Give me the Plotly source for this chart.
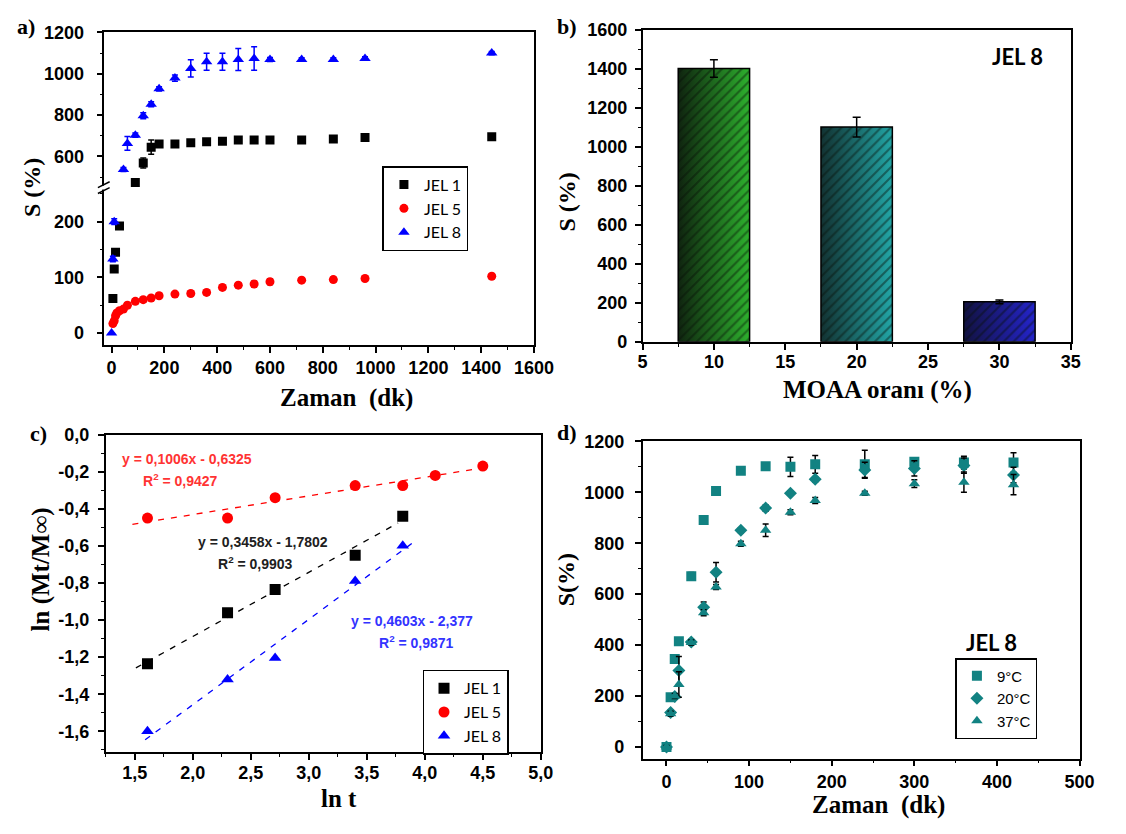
import plotly.graph_objects as go

W, H = 1126, 834

# ---------------- (a) swelling vs time for three gels ----------------
t_jel1 = [5, 10, 15, 30, 90, 120, 150, 180, 240, 300, 360, 420, 480, 540, 600, 720, 840, 960, 1440]
s_jel1 = [62, 115, 145, 192, 474, 568, 645, 660, 660, 666, 671, 674, 679, 679, 679, 679, 684, 692, 695]
e_jel1 = [2, 3, 3, 5, 4, 24, 35, 8, 8, 5, 5, 8, 5, 5, 5, 5, 5, 5, 8]

t_jel5 = [5, 10, 15, 20, 30, 45, 60, 90, 120, 150, 180, 240, 300, 360, 420, 480, 540, 600, 720, 840, 960, 1440]
s_jel5 = [17, 22, 31, 36, 40, 43, 50, 57, 60, 63, 67, 70, 71, 73, 82, 86, 88, 92, 95, 96, 98, 102]
e_jel5 = [4, 4, 4, 4, 4, 4, 4, 4, 4, 4, 4, 4, 4, 4, 4, 4, 5, 5, 4, 4, 4, 4]

t_jel8 = [0, 5, 10, 45, 60, 90, 120, 150, 180, 240, 300, 360, 420, 480, 540, 600, 720, 840, 960, 1440]
s_jel8 = [0, 133, 200, 537, 663, 703, 797, 853, 927, 979, 1026, 1058, 1058, 1069, 1074, 1069, 1069, 1069, 1074, 1100]
e_jel8 = [0, 5, 5, 10, 33, 10, 15, 12, 10, 15, 42, 41, 41, 53, 57, 10, 8, 8, 8, 8]

# ---------------- (b) swelling vs MOAA ratio ----------------
moaa_ratio = [10, 20, 30]
moaa_swell = [1400, 1100, 205]
moaa_err = [45, 50, 10]
bar_dark = ["#0f240f", "#123232", "#121240"]
bar_light = ["#2db02d", "#22a6a6", "#2424cc"]

# ---------------- (c) ln(Mt/Minf) vs ln t ----------------
lnt_jel1 = [1.61, 2.30, 2.71, 3.40, 3.81]
lnm_jel1 = [-1.235, -0.96, -0.835, -0.65, -0.44]
lnt_jel5 = [1.61, 2.30, 2.71, 3.40, 3.81, 4.09, 4.50]
lnm_jel5 = [-0.45, -0.45, -0.34, -0.275, -0.275, -0.22, -0.17]
lnt_jel8 = [1.61, 2.30, 2.71, 3.40, 3.81]
lnm_jel8 = [-1.60, -1.32, -1.205, -0.79, -0.60]

fit_slope = [0.3458, 0.1006, 0.4603]
fit_icpt = [-1.7802, -0.6325, -2.377]
fit_r2 = ["0,9903", "0,9427", "0,9871"]
fit_x0 = [1.51, 1.48, 1.59]
fit_x1 = [3.77, 4.47, 3.89]

# ---------------- (d) JEL 8 at three temperatures ----------------
t_temp = [0, 5, 10, 15, 30, 45, 60, 90, 120, 150, 180, 240, 300, 360, 420]
s_9c = [0, 195, 345, 415, 670, 891, 1005, 1085, 1102, 1100, 1110, 1110, 1120, 1117, 1117]
e_9c = [5, 10, 15, 8, 15, 8, 8, 8, 8, 38, 35, 55, 10, 25, 38]
s_20c = [0, 135, 198, 300, 412, 549, 686, 851, 938, 996, 1051, 1088, 1094, 1105, 1068]
e_20c = [5, 10, 10, 55, 10, 20, 38, 10, 12, 8, 10, 30, 30, 30, 30]
s_37c = [0, 130, 200, 245, 410, 527, 628, 798, 851, 922, 968, 996, 1034, 1040, 1030]
e_37c = [5, 10, 10, 50, 10, 12, 10, 10, 25, 10, 12, 8, 15, 40, 40]

BLUE, RED, BLACK, TEAL = "#0000ff", "#ff0000", "#000000", "#128282"


def fx(p):
    return p / W


def fy(p):
    return 1 - p / H


def errbar(vals, color="black"):
    return dict(type="data", array=vals, visible=True, color=color, thickness=1.5, width=3)


fig = go.Figure()

# (a) each series on both halves of the broken axis
series_a = [
    ("JEL 1", t_jel1, s_jel1, e_jel1, "square", BLACK, BLACK, 9),
    ("JEL 5", t_jel5, s_jel5, e_jel5, "circle", RED, BLACK, 9),
    ("JEL 8", t_jel8, s_jel8, e_jel8, "triangle-up", BLUE, BLUE, 10),
]
for name, t, s, e, sym, col, ecol, sz in series_a:
    for xa, ya, show in (("x", "y", True), ("x2", "y2", False)):
        fig.add_trace(go.Scatter(
            x=t, y=s, mode="markers", name=name, showlegend=show, legend="legend",
            marker=dict(symbol=sym, color=col, size=sz, line=dict(width=0)),
            error_y=errbar(e, ecol), xaxis=xa, yaxis=ya))

# (b) gradient-filled bars (base layer) with hatching and error bars on top
for xc, v, c0, c1 in zip(moaa_ratio, moaa_swell, bar_dark, bar_light):
    fig.add_trace(go.Scatter(
        x=[xc - 2.5, xc + 2.5, xc + 2.5, xc - 2.5, xc - 2.5], y=[0, 0, v, v, 0],
        mode="lines", fill="toself", line=dict(width=0),
        fillgradient=dict(type="horizontal", colorscale=[[0, c0], [1, c1]]),
        showlegend=False, hoverinfo="skip", xaxis="x3", yaxis="y3"))
fig.add_trace(go.Bar(
    x=moaa_ratio, y=moaa_swell, width=5, showlegend=False,
    marker=dict(color="rgba(0,0,0,0)", line=dict(color="black", width=1.5),
                pattern=dict(shape="/", fgcolor="rgba(5,15,5,0.85)", size=7, solidity=0.3,
                             fillmode="overlay")),
    error_y=dict(type="data", array=moaa_err, visible=True, color="black", thickness=1.5, width=4),
    xaxis="x4", yaxis="y4"))

# (c) kinetic fits and points
fit_cols = [BLACK, RED, BLUE]
for m, b, x0, x1, col in zip(fit_slope, fit_icpt, fit_x0, fit_x1, fit_cols):
    fig.add_trace(go.Scatter(
        x=[x0, x1], y=[m * x0 + b, m * x1 + b], mode="lines", showlegend=False,
        line=dict(color=col, width=1.3, dash="6px,7px"), xaxis="x5", yaxis="y5"))
for name, lx, ly, sym, col in (
        ("JEL 1", lnt_jel1, lnm_jel1, "square", BLACK),
        ("JEL 5", lnt_jel5, lnm_jel5, "circle", RED),
        ("JEL 8", lnt_jel8, lnm_jel8, "triangle-up", BLUE)):
    fig.add_trace(go.Scatter(
        x=lx, y=ly, mode="markers", name=name, legend="legend2",
        marker=dict(symbol=sym, color=col, size=11, line=dict(width=0)),
        xaxis="x5", yaxis="y5"))

# (d) temperature series
for name, s, e, sym in (("9°C", s_9c, e_9c, "square"),
                        ("20°C", s_20c, e_20c, "diamond"),
                        ("37°C", s_37c, e_37c, "triangle-up")):
    fig.add_trace(go.Scatter(
        x=t_temp, y=s, mode="markers", name=name, legend="legend3",
        marker=dict(symbol=sym, color=TEAL, size=10, line=dict(width=0)),
        error_y=errbar(e, "black"), xaxis="x6", yaxis="y6"))

tickfont = dict(family="Liberation Sans", size=18, color="black", weight="bold")
base = dict(showline=True, linecolor="black", linewidth=1.5, ticks="outside", ticklen=6,
            tickwidth=1.5, tickcolor="black", showgrid=False, zeroline=False,
            tickfont=tickfont, mirror=True)


def minor(d, tick0=0):
    return dict(ticks="outside", ticklen=3, tickwidth=1.2, tickcolor="black",
                tickmode="linear", tick0=tick0, dtick=d, showgrid=False)


dom_ax = [fx(101.7), fx(541)]
dom_bx = [fx(652), fx(1090)]
dom_cx = [fx(103), fx(548)]
dom_dx = [fx(652), fx(1099)]

legend_box = dict(xanchor="left", yanchor="top", bgcolor="white", bordercolor="black",
                  borderwidth=1.5, itemwidth=30)

layout = dict(
    width=W, height=H, margin=dict(l=0, r=0, t=0, b=0),
    paper_bgcolor="white", plot_bgcolor="white",
    # (a) lower / upper parts of broken axis
    xaxis=dict(base, domain=dom_ax, anchor="y", range=[-27, 1600], dtick=200, tick0=0,
               minor=minor(100), mirror=False, ticklabelstandoff=0),
    yaxis=dict(base, domain=[fy(343), fy(182)], anchor="x", range=[-21, 261], dtick=100,
               tick0=0, minor=minor(50), ticklabelstandoff=9),
    xaxis2=dict(base, domain=dom_ax, anchor="y2", matches="x", side="top", ticks="",
                showticklabels=False, mirror=False),
    yaxis2=dict(base, domain=[fy(182), fy(23)], anchor="x2", range=[449, 1200], dtick=200,
                tick0=0, minor=minor(100), ticklabelstandoff=9),
    # (b)
    xaxis3=dict(base, domain=dom_bx, anchor="y3", range=[5, 35], dtick=5, tick0=0,
                minor=minor(2.5, 2.5), ticklabelstandoff=-3),
    yaxis3=dict(base, domain=[fy(340), fy(20)], anchor="x3", range=[0, 1600], dtick=200,
                tick0=0, minor=minor(100), ticklabelstandoff=4),
    xaxis4=dict(domain=dom_bx, anchor="y4", overlaying="x3", matches="x3", visible=False),
    yaxis4=dict(domain=[fy(340), fy(20)], anchor="x4", overlaying="y3", matches="y3",
                visible=False),
    # (c)
    xaxis5=dict(base, domain=dom_cx, anchor="y5", range=[1.25, 5.0],
                tickmode="array", tickvals=[1.5, 2.0, 2.5, 3.0, 3.5, 4.0, 4.5, 5.0],
                ticktext=["1,5", "2,0", "2,5", "3,0", "3,5", "4,0", "4,5", "5,0"],
                minor=minor(0.25), ticklabelstandoff=-2),
    yaxis5=dict(base, domain=[fy(760), fy(435)], anchor="x5", range=[-1.71, 0.0],
                tickmode="array",
                tickvals=[0.0, -0.2, -0.4, -0.6, -0.8, -1.0, -1.2, -1.4, -1.6],
                ticktext=["0,0", "-0,2", "-0,4", "-0,6", "-0,8", "-1,0", "-1,2", "-1,4", "-1,6"],
                minor=minor(0.1), ticklabelstandoff=5),
    # (d)
    xaxis6=dict(base, domain=dom_dx, anchor="y6", range=[-29, 500], dtick=100, tick0=0,
                minor=minor(50), ticklabelstandoff=0),
    yaxis6=dict(base, domain=[fy(767), fy(442)], anchor="x6", range=[-46, 1200], dtick=200,
                tick0=0, minor=minor(100), ticklabelstandoff=7),
    legend=dict(legend_box, x=fx(386), y=fy(160),
                font=dict(family="Lato", size=16, color="black")),
    legend2=dict(legend_box, x=fx(427), y=fy(676),
                 font=dict(family="Lato", size=16, color="black")),
    legend3=dict(legend_box, x=fx(972), y=fy(664),
                 font=dict(family="Liberation Sans", size=15, color="black")),
)
fig.update_layout(**layout)

serif = "Liberation Serif"
annotations = []


def ann(text, x, y, size, family=serif, color="black", xanchor="center", angle=0,
        weight="bold"):
    annotations.append(dict(
        text=text, x=fx(x), y=fy(y), xref="paper", yref="paper", showarrow=False,
        xanchor=xanchor, yanchor="middle", textangle=angle,
        font=dict(family=family, size=size, color=color, weight=weight)))


# panel letters
ann("a)", 21, 17, 22)
ann("b)", 575, 17, 22)
ann("c)", 34, 434, 22)
ann("d)", 575, 433, 22)

# axis titles
ann("Zaman  (dk)", 349, 398, 25)
ann("S (%)", 27, 182, 24, angle=-90)
ann("MOAA oranı (%)", 892, 389, 25)
ann("S (%)", 575, 197, 24, angle=-90)
ann("ln t", 342, 808, 25)
ann("ln (Mt/M∞)", 37, 573, 25, angle=-90)
ann("Zaman  (dk)", 893, 815, 25)
ann("S(%)", 574, 584, 24, angle=-90)

# sample labels
ann("JEL 8", 1035, 48, 22, family="Lato")
ann("JEL 8", 1009, 648, 22, family="Lato")

# fit equations in (c)
eq_pos = [(195, 545, 216, 567), (118, 460, 139, 482), (352, 626, 380, 648)]
eq_cols = ["#202020", "#ff3333", "#3333ff"]
for m, b, r2, (ex, ey, rx, ry), col in zip(fit_slope, fit_icpt, fit_r2, eq_pos, eq_cols):
    m_txt = f"{m:.4f}".replace(".", ",")
    b_txt = f"{abs(b):.4f}".rstrip("0").replace(".", ",")
    ann(f"y = {m_txt}x - {b_txt}", ex, ey, 14, family="Liberation Sans", color=col,
        xanchor="left")
    ann(f"R<sup>2</sup> = {r2}", rx, ry, 14, family="Liberation Sans", color=col,
        xanchor="left")

fig.update_layout(annotations=annotations)

# axis break marks on the left axis of (a)
shapes = [
    dict(type="rect", xref="paper", yref="paper", x0=fx(98), x1=fx(106), y0=fy(184),
         y1=fy(180), fillcolor="white", line=dict(width=0), layer="above"),
    dict(type="line", xref="paper", yref="paper", x0=fx(95), y0=fy(182), x1=fx(107),
         y1=fy(176), line=dict(color="black", width=1.5), layer="above"),
    dict(type="line", xref="paper", yref="paper", x0=fx(95), y0=fy(188), x1=fx(107),
         y1=fy(182), line=dict(color="black", width=1.5), layer="above"),
]
fig.update_layout(shapes=shapes)

fig.write_html("out.html")
